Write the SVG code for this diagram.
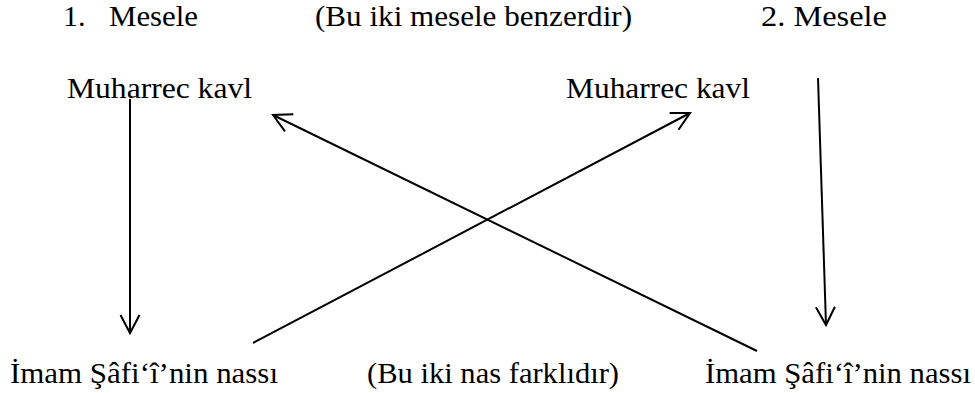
<svg xmlns="http://www.w3.org/2000/svg" width="975" height="393" viewBox="0 0 975 393">
  <style>
    .t { font-family: "Liberation Serif", "Times New Roman", serif; font-size: 30px; fill: #000; }
    .conn { stroke: #000; stroke-width: 2; fill: none; marker-end: url(#arrow); }
  </style>
  <defs>
    <marker id="arrow" markerUnits="userSpaceOnUse" viewBox="-20 -12 22 24" markerWidth="22" markerHeight="24" refX="0" refY="0" orient="auto" overflow="visible">
      <path d="M-18,-9.5 L0,0 L-18,9.5" fill="none" stroke="#000" stroke-width="2"/>
    </marker>
  </defs>
  <rect width="975" height="393" fill="#fff"/>

  <g id="header-1" class="t">
    <text x="63" y="26">1.</text>
    <text x="109" y="26" textLength="89" lengthAdjust="spacingAndGlyphs">Mesele</text>
  </g>
  <g id="header-note" class="t">
    <text x="315" y="26" textLength="317" lengthAdjust="spacingAndGlyphs">(Bu iki mesele benzerdir)</text>
  </g>
  <g id="header-2" class="t">
    <text x="761" y="26" textLength="126" lengthAdjust="spacingAndGlyphs">2. Mesele</text>
  </g>

  <g id="muharrec-1" class="t">
    <text x="67" y="98" textLength="185" lengthAdjust="spacingAndGlyphs">Muharrec kavl</text>
  </g>
  <g id="muharrec-2" class="t">
    <text x="566" y="98" textLength="184" lengthAdjust="spacingAndGlyphs">Muharrec kavl</text>
  </g>

  <g id="nas-1" class="t">
    <text x="10" y="383" textLength="268" lengthAdjust="spacingAndGlyphs">İmam Şâfi‘î’nin nassı</text>
  </g>
  <g id="nas-note" class="t">
    <text x="367" y="383" textLength="252" lengthAdjust="spacingAndGlyphs">(Bu iki nas farklıdır)</text>
  </g>
  <g id="nas-2" class="t">
    <text x="705" y="383" textLength="266" lengthAdjust="spacingAndGlyphs">İmam Şâfi‘î’nin nassı</text>
  </g>

  <g id="connectors">
    <line class="conn" x1="130" y1="99" x2="130" y2="333"/>
    <line class="conn" x1="818" y1="78" x2="826" y2="325"/>
    <line class="conn" x1="253" y1="343" x2="690" y2="113"/>
    <line class="conn" x1="757" y1="351" x2="273" y2="115"/>
  </g>
</svg>
